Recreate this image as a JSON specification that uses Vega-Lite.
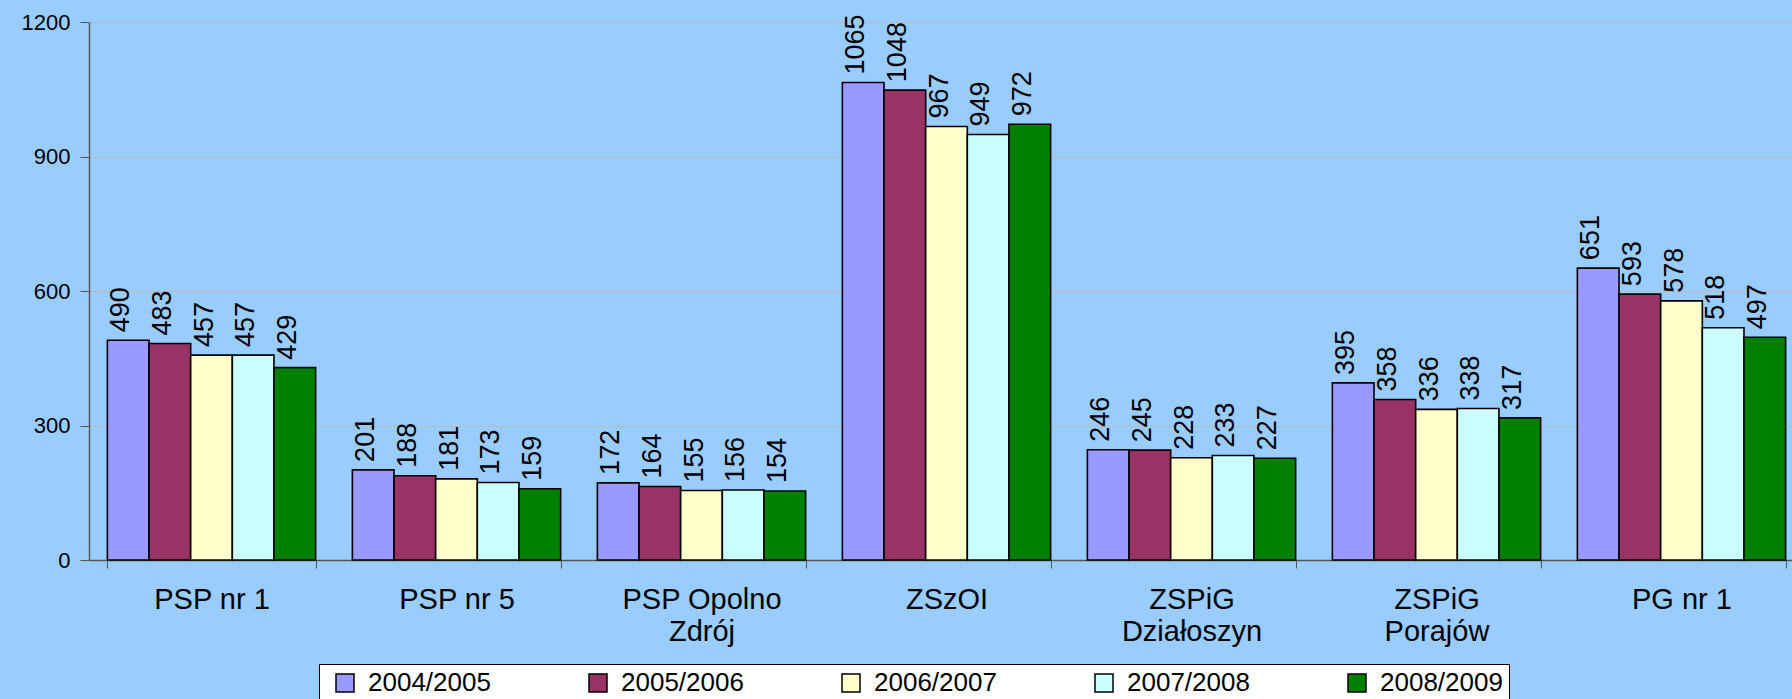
{
  "$schema": "https://vega.github.io/schema/vega-lite/v6.json",
  "width": 1703,
  "height": 538,
  "autosize": {"type": "none"},
  "padding": {"left": 89, "top": 22, "right": 0, "bottom": 139},
  "background": "#99CCFF",
  "config": {"view": {"stroke": null}, "font": "Liberation Sans"},
  "data": {"values": [
    {"school": "PSP nr 1", "year": "2004/2005", "value": 490},
    {"school": "PSP nr 1", "year": "2005/2006", "value": 483},
    {"school": "PSP nr 1", "year": "2006/2007", "value": 457},
    {"school": "PSP nr 1", "year": "2007/2008", "value": 457},
    {"school": "PSP nr 1", "year": "2008/2009", "value": 429},
    {"school": "PSP nr 5", "year": "2004/2005", "value": 201},
    {"school": "PSP nr 5", "year": "2005/2006", "value": 188},
    {"school": "PSP nr 5", "year": "2006/2007", "value": 181},
    {"school": "PSP nr 5", "year": "2007/2008", "value": 173},
    {"school": "PSP nr 5", "year": "2008/2009", "value": 159},
    {"school": "PSP Opolno Zdrój", "year": "2004/2005", "value": 172},
    {"school": "PSP Opolno Zdrój", "year": "2005/2006", "value": 164},
    {"school": "PSP Opolno Zdrój", "year": "2006/2007", "value": 155},
    {"school": "PSP Opolno Zdrój", "year": "2007/2008", "value": 156},
    {"school": "PSP Opolno Zdrój", "year": "2008/2009", "value": 154},
    {"school": "ZSzOI", "year": "2004/2005", "value": 1065},
    {"school": "ZSzOI", "year": "2005/2006", "value": 1048},
    {"school": "ZSzOI", "year": "2006/2007", "value": 967},
    {"school": "ZSzOI", "year": "2007/2008", "value": 949},
    {"school": "ZSzOI", "year": "2008/2009", "value": 972},
    {"school": "ZSPiG Działoszyn", "year": "2004/2005", "value": 246},
    {"school": "ZSPiG Działoszyn", "year": "2005/2006", "value": 245},
    {"school": "ZSPiG Działoszyn", "year": "2006/2007", "value": 228},
    {"school": "ZSPiG Działoszyn", "year": "2007/2008", "value": 233},
    {"school": "ZSPiG Działoszyn", "year": "2008/2009", "value": 227},
    {"school": "ZSPiG Porajów", "year": "2004/2005", "value": 395},
    {"school": "ZSPiG Porajów", "year": "2005/2006", "value": 358},
    {"school": "ZSPiG Porajów", "year": "2006/2007", "value": 336},
    {"school": "ZSPiG Porajów", "year": "2007/2008", "value": 338},
    {"school": "ZSPiG Porajów", "year": "2008/2009", "value": 317},
    {"school": "PG nr 1", "year": "2004/2005", "value": 651},
    {"school": "PG nr 1", "year": "2005/2006", "value": 593},
    {"school": "PG nr 1", "year": "2006/2007", "value": 578},
    {"school": "PG nr 1", "year": "2007/2008", "value": 518},
    {"school": "PG nr 1", "year": "2008/2009", "value": 497}
  ]},
  "encoding": {
    "x": {
      "field": "school", "type": "nominal", "sort": null,
      "scale": {"range": [0, 1715], "paddingInner": 0.15, "paddingOuter": 0.075},
      "axis": {
        "title": null, "labelAngle": 0, "tickBand": "extent", "tickSize": 8,
        "tickColor": "#555555", "domainColor": "#555555", "domainWidth": 1.5,
        "labelPadding": 17, "labelFontSize": 29, "labelColor": "black",
        "labelLineHeight": 32, "labelLimit": 0,
        "labelExpr": "datum.value == 'PSP Opolno Zdrój' ? ['PSP Opolno', 'Zdrój'] : datum.value == 'ZSPiG Działoszyn' ? ['ZSPiG', 'Działoszyn'] : datum.value == 'ZSPiG Porajów' ? ['ZSPiG', 'Porajów'] : datum.value"
      }
    },
    "xOffset": {"field": "year", "type": "nominal", "sort": null, "scale": {"paddingInner": 0, "paddingOuter": 0}},
    "y": {
      "field": "value", "type": "quantitative",
      "scale": {"domain": [0, 1200]},
      "axis": {
        "title": null, "values": [0, 300, 600, 900, 1200], "format": "d",
        "grid": true, "gridColor": "#bbbbbb", "gridWidth": 1,
        "domainColor": "#555555", "domainWidth": 1.5, "tickColor": "#555555",
        "tickSize": 9, "labelPadding": 10, "labelFontSize": 22, "labelColor": "black"
      }
    }
  },
  "layer": [
    {
      "mark": {"type": "bar", "stroke": "black", "strokeWidth": 1.6},
      "encoding": {
        "color": {
          "field": "year", "type": "nominal",
          "scale": {
            "domain": ["2004/2005", "2005/2006", "2006/2007", "2007/2008", "2008/2009"],
            "range": ["#9999FF", "#993366", "#FFFFCC", "#CCFFFF", "#008000"]
          },
          "legend": {
            "title": null, "orient": "none", "legendX": 230, "legendY": 642,
            "direction": "horizontal", "columns": 5,
            "fillColor": "white", "strokeColor": "black", "padding": 6,
            "symbolType": "square", "symbolSize": 324, "symbolStrokeColor": "black",
            "symbolStrokeWidth": 1.5, "symbolOffset": 7,
            "labelFontSize": 26, "labelColor": "black", "labelOffset": 10,
            "columnPadding": 87
          }
        }
      }
    },
    {
      "mark": {"type": "text", "angle": 270, "align": "left", "baseline": "middle", "dx": 8, "dy": -7, "fontSize": 27, "color": "black"},
      "encoding": {"text": {"field": "value", "type": "quantitative"}}
    }
  ]
}
